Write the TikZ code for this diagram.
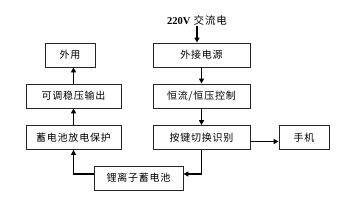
\documentclass[tikz,border=0pt]{standalone}
\usepackage{fontspec}
\setmainfont{Noto Sans CJK SC}[LetterSpace=8]
\newfontfamily\latinserif{Liberation Serif}
\usetikzlibrary{arrows.meta}

\begin{document}
\begin{tikzpicture}[x=1pt,y=-1pt,
    blk/.style={draw=black!85, line width=0.8pt, minimum height=24pt, inner sep=0pt,
        font=\fontsize{10}{12}\selectfont},
    flow/.style={line width=1.4pt, -{Triangle[length=5pt,width=5pt]}}]
    \useasboundingbox (0,0) rectangle (346,206);
    % supply chain, right column
    \node[font=\fontsize{10.5}{12}\selectfont, inner sep=1pt] (ac) at (197,20)
        {{\latinserif\bfseries 220V} 交流电};
    \node[blk, minimum width=97pt] (ext) at (201.5,55) {外接电源};
    \node[blk, minimum width=97pt] (ctrl) at (201.5,96) {恒流/恒压控制};
    \node[blk, minimum width=97pt] (key) at (201.5,137.5) {按键切换识别};
    \node[blk, minimum width=50pt] (phone) at (304,137.5) {手机};
    % battery and output, left column
    \node[blk, minimum width=89pt] (batt) at (138.5,178) {锂离子蓄电池};
    \node[blk, minimum width=95pt] (prot) at (73.5,137.5) {蓄电池放电保护};
    \node[blk, minimum width=95pt] (reg) at (73.5,96) {可调稳压输出};
    \node[blk, minimum width=50pt] (out) at (70,55) {外用};

    \draw[flow] (ac.south) -- (ac.south |- ext.north);
    \draw[flow] (ext) -- (ctrl);
    \draw[flow] (ctrl) -- (key);
    \draw[flow] ([yshift=-4pt]key.east) -- ([yshift=-4pt]phone.west);
    \draw[flow] (key.south) |- ([yshift=4pt]batt.east);
    \draw[flow] ([yshift=4pt]batt.west) -| (prot.south);
    \draw[flow] (prot) -- (reg);
    \draw[flow] (reg.north) -- (reg.north |- out.south);
\end{tikzpicture}
\end{document}
